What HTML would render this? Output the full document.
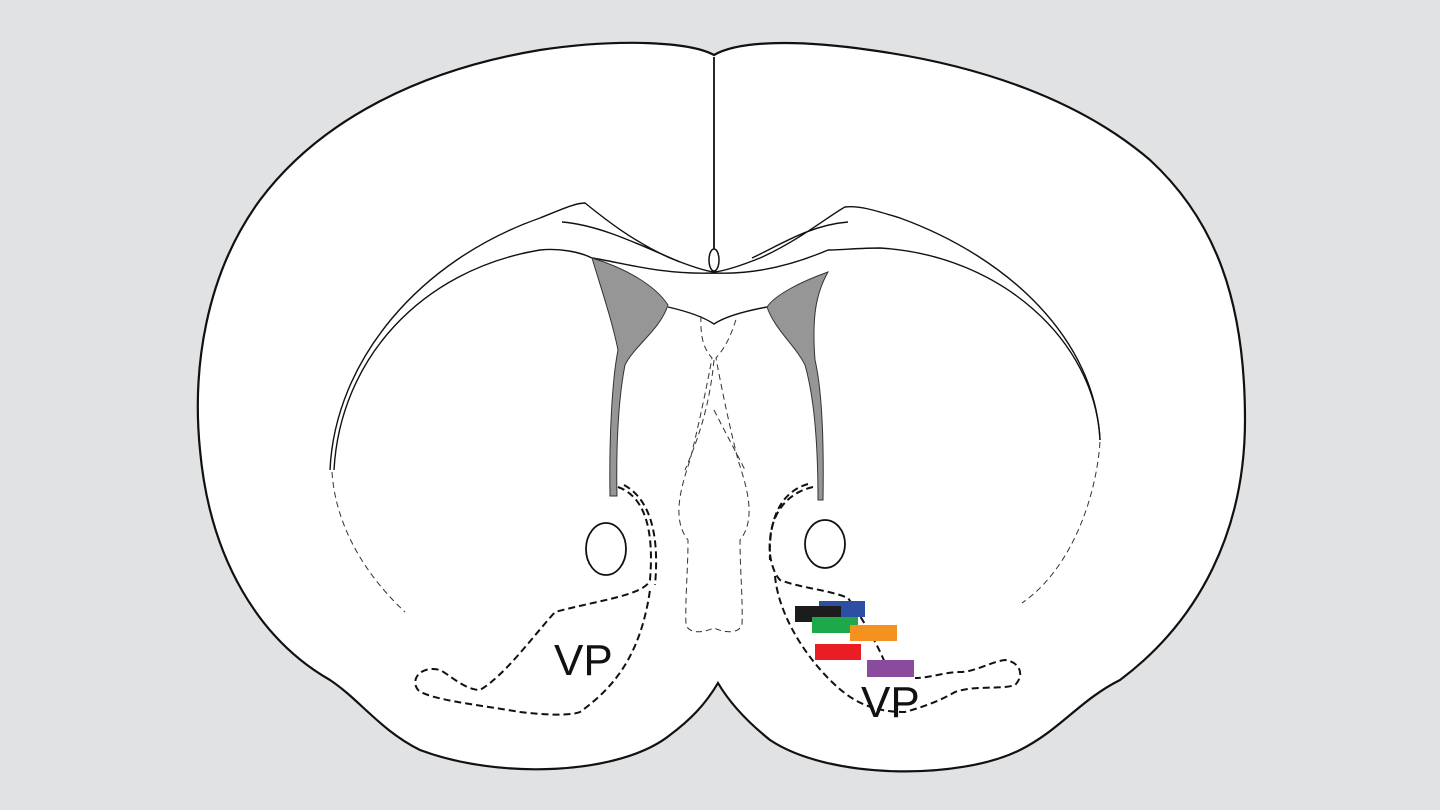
<!DOCTYPE html>
<html><head><style>html,body{margin:0;padding:0;background:#e1e2e4}svg{display:block}</style></head><body>
<svg width="1440" height="810" viewBox="0 0 1440 810" xmlns="http://www.w3.org/2000/svg">
<rect width="1440" height="810" fill="#e1e2e4"/>
<path d="M714,55 C690,42 620,38 540,50 C420,70 320,120 260,200 C205,275 192,370 200,450 C210,560 260,640 330,680 C360,700 380,730 420,750 C500,780 620,775 670,735 C690,720 705,705 718,683 C728,700 745,720 770,740 C830,780 960,780 1020,750 C1060,730 1080,700 1120,680 C1200,620 1245,530 1245,420 C1245,300 1215,220 1150,160 C1080,100 980,65 870,50 C800,40 740,40 714,55 Z" fill="#fff" stroke="#111" stroke-width="2.2"/>
<path d="M714,57 L714,250" stroke="#111" stroke-width="1.8" fill="none"/>
<ellipse cx="714" cy="260" rx="5" ry="11" fill="#fff" stroke="#111" stroke-width="1.5"/>
<g fill="none" stroke="#111" stroke-width="1.4">
<path d="M330,470 C335,360 420,260 540,218 C560,210 575,203 585,203 C600,215 630,240 670,258 C690,266 705,271 714,272 C725,271 740,266 760,258 C800,240 830,215 845,207 C860,205 880,212 900,218 C1010,258 1095,340 1100,440"/>
<path d="M334,470 C340,360 420,270 540,250 C560,248 580,252 592,258"/>
<path d="M562,222 C600,225 640,245 680,262"/>
<path d="M592,258 C620,262 660,275 714,273 C760,275 800,262 828,250"/>
<path d="M1100,440 C1095,340 1000,255 880,248 C860,248 840,250 828,250"/>
<path d="M848,222 C810,225 780,245 752,258"/>
<path d="M668,307 C690,312 705,318 714,324 C723,318 740,312 767,307"/>
</g>
<path d="M592,258 C625,268 655,285 668,305 C660,330 635,345 625,365 C618,400 616,450 617,496 L610,496 C609,440 612,380 618,350 C612,320 600,285 592,258 Z" fill="#969696" stroke="#333" stroke-width="1"/>
<path d="M828,272 C800,282 775,295 767,307 C775,330 795,345 805,365 C815,400 818,450 818,500 L823,500 C824,440 822,390 815,360 C812,320 815,295 828,272 Z" fill="#969696" stroke="#333" stroke-width="1"/>
<g fill="none" stroke="#333" stroke-width="1" stroke-dasharray="6,4">
<path d="M332,472 C335,520 360,570 405,612"/>
<path d="M1100,442 C1096,500 1070,570 1022,603"/>
<path d="M701,316 C700,340 705,350 712,358 C708,380 700,420 690,460 C680,490 672,520 688,540 C688,570 685,600 686,625 C690,635 705,632 714,628 C722,632 738,635 742,625 C743,600 740,570 740,540 C756,520 748,490 738,460 C728,420 720,380 716,358 C723,350 730,340 737,316"/>
<path d="M714,360 C710,400 702,430 685,470"/>
<path d="M714,410 C724,430 735,450 745,470"/>
</g>
<g fill="none" stroke="#111" stroke-width="2" stroke-dasharray="7,4">
<path d="M618,487 C640,495 655,520 650,580 C645,595 600,600 555,612 C530,640 505,675 480,690 C465,690 450,675 440,670 C420,665 410,680 418,690 C430,700 480,705 520,712 C545,715 570,716 580,712 C610,690 640,660 650,590"/>
<path d="M624,485 C648,498 660,530 655,585"/>
<path d="M813,487 C790,492 772,510 770,540 C768,560 775,575 780,580 C800,588 830,590 848,598 C870,630 880,650 888,670"/>
<path d="M808,484 C780,492 768,520 770,560"/>
<path d="M775,576 C778,610 800,650 830,680 C850,700 870,712 905,712 C930,705 945,698 955,692 C975,685 1000,690 1015,685 C1025,675 1020,662 1005,660 C990,662 975,672 960,672 C945,672 930,678 915,678"/>
</g>
<ellipse cx="606" cy="549" rx="20" ry="26" fill="#fff" stroke="#111" stroke-width="1.8"/>
<ellipse cx="825" cy="544" rx="20" ry="24" fill="#fff" stroke="#111" stroke-width="1.8"/>
<rect x="819" y="601" width="46" height="16" fill="#2c4fa3"/>
<rect x="795" y="606" width="46" height="16" fill="#1c1c1c"/>
<rect x="812" y="617" width="46" height="16" fill="#1fa84a"/>
<rect x="850" y="625" width="47" height="16" fill="#f4921f"/>
<rect x="815" y="644" width="46" height="16" fill="#ea1c24"/>
<rect x="867" y="660" width="47" height="17" fill="#8a4b9e"/>
<text x="554" y="675" font-family="Liberation Sans, sans-serif" font-size="44" fill="#111">VP</text>
<text x="861" y="717" font-family="Liberation Sans, sans-serif" font-size="44" fill="#111">VP</text>
</svg>
</body></html>
